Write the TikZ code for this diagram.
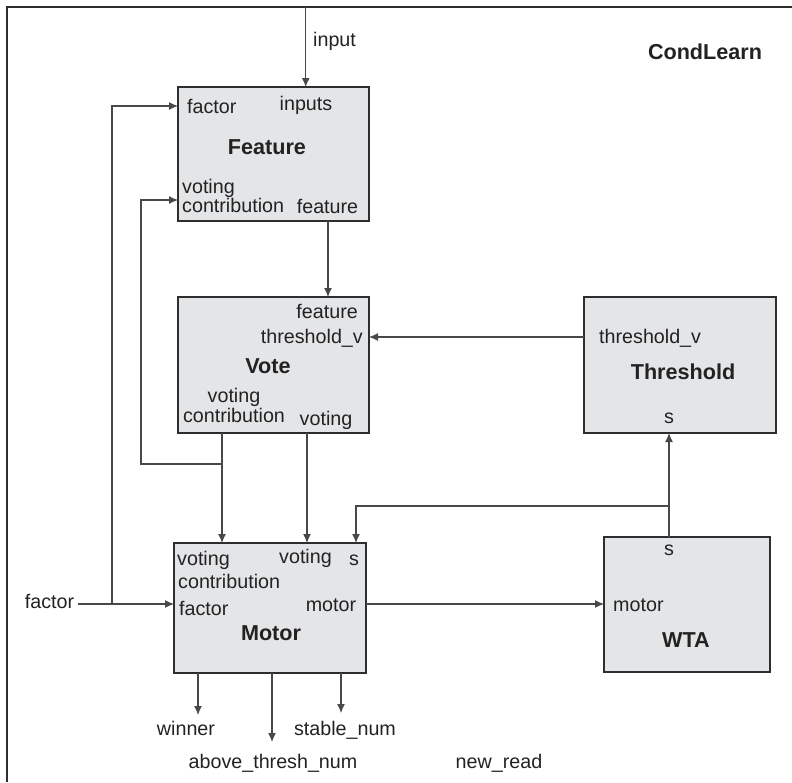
\documentclass[tikz,border=0pt]{standalone}
\usepackage{fontspec}
\setmainfont{Liberation Sans}
\usetikzlibrary{arrows.meta}
\definecolor{boxfill}{HTML}{E4E5E7}
\definecolor{boxline}{HTML}{2E2E2E}
\definecolor{wire}{HTML}{484848}
\definecolor{txt}{HTML}{222222}
\begin{document}
\begin{tikzpicture}[x=1pt,y=-1pt,
  blk/.style={draw=boxline,fill=boxfill,line width=1.6pt,inner sep=0pt,outer sep=0pt},
  wirel/.style={draw=wire,line width=1.2pt},
  arr/.style={wirel,-{Latex[length=9pt,width=8pt]}},
  lbl/.style={inner sep=0pt,text=txt,font=\fontsize{19.7}{20.5}\selectfont},
  lblL/.style={lbl,anchor=base west},
  lblC/.style={lbl,anchor=base},
  lblR/.style={lbl,anchor=base east},
  ttl/.style={inner sep=0pt,anchor=base,text=txt,font=\fontsize{21.6}{22}\selectfont\bfseries}]
\useasboundingbox (0,0) rectangle (792,782);
% frame
\draw[boxline,line width=1.8pt] (7,782) -- (7,7) -- (792,7);

% blocks
\node[blk,minimum width=191pt,minimum height=134pt] (Feature) at (273.5,154) {};
\node[blk,minimum width=191pt,minimum height=136pt] (Vote) at (273.5,365) {};
\node[blk,minimum width=192pt,minimum height=136pt] (Threshold) at (680,365) {};
\node[blk,minimum width=192pt,minimum height=130pt] (Motor) at (270,608) {};
\node[blk,minimum width=166pt,minimum height=135pt] (WTA) at (687,604.5) {};

% titles
\node[ttl] (tCond) at (705,59) {CondLearn};
\node[ttl] (tFeat) at (267,154) {Feature};
\node[ttl] (tVote) at (268,373) {Vote};
\node[ttl] (tThr) at (683,379) {Threshold};
\node[ttl] (tMot) at (271,640) {Motor};
\node[ttl] (tWTA) at (686,647) {WTA};

% Feature labels
\node[lblL] (lInput) at (313,46) {input};
\node[lblL] (fFactor) at (187,113) {factor};
\node[lblC] (fInputs) at (306,110) {inputs};
\node[lblL] (fVoting) at (182,193) {voting};
\node[lblL] (fContr) at (182,212) {contribution};
\node[lblC] (fFeature) at (327.5,213) {feature};

% Vote labels
\node[lblR] (vFeature) at (358,318) {feature};
\node[lblR] (vThr) at (363,343) {threshold\_v};
\node[lblC] (vVoting) at (234,402) {voting};
\node[lblC] (vContr) at (234,422) {contribution};
\node[lblC] (vVoting2) at (326,425) {voting};

% Threshold labels
\node[lblL] (tThrV) at (599,343) {threshold\_v};
\node[lblC] (tS) at (669,423) {s};

% Motor labels
\node[lblL] (mVoting) at (177,565) {voting};
\node[lblL] (mContr) at (178,588) {contribution};
\node[lblL] (mFactor) at (179,615) {factor};
\node[lblC] (mVoting2) at (305.5,563) {voting};
\node[lblC] (mS) at (354,565) {s};
\node[lblC] (mMotor) at (331,611) {motor};

% WTA labels
\node[lblC] (wS) at (669,555) {s};
\node[lblL] (wMotor) at (613,611) {motor};

% outside labels
\node[lblC] (oFactor) at (49.5,608) {factor};
\node[lblC] (oWinner) at (186,735) {winner};
\node[lblC] (oAbove) at (273,768) {above\_thresh\_num};
\node[lblC] (oStable) at (345,735) {stable\_num};
\node[lblC] (oNew) at (499,768) {new\_read};

% coordinates
\coordinate (inTop) at (305.7,7);
\coordinate (facL) at (78,604);
\coordinate (facJ) at (112,604);
\coordinate (vcJ) at (222,464);
\coordinate (vcL) at (141,464);
\coordinate (sJ) at (669,506);
\coordinate (winEnd) at (198,715);
\coordinate (aboveEnd) at (272,742);
\coordinate (stableEnd) at (341,713);

% connectors
\draw[arr] (inTop) -- (inTop |- Feature.north);
\draw[arr] (facL) -- (facL -| Motor.west);
\draw[arr] (facJ) |- ([yshift=48pt]Feature.west);
\draw[arr] ([xshift=54.5pt]Feature.south) -- ([xshift=54.5pt]Vote.north);
\draw[arr] ([yshift=28pt]Threshold.west) -- ([yshift=28pt]Vote.east);
\draw[arr] ([xshift=-51.5pt]Vote.south) -- ([xshift=-48pt]Motor.north);
\draw[arr] (vcJ) -- (vcL) |- ([yshift=-46pt]Feature.west);
\draw[arr] ([xshift=33.5pt]Vote.south) -- ([xshift=37pt]Motor.north);
\draw[arr] ([xshift=-18pt]WTA.north) -- ([xshift=-11pt]Threshold.south);
\draw[arr] (sJ) -| ([xshift=86pt]Motor.north);
\draw[arr] ([yshift=4pt]Motor.east) -- ([yshift=4pt]Motor.east -| WTA.west);
\draw[arr] ([xshift=-72pt]Motor.south) -- (winEnd);
\draw[arr] ([xshift=2pt]Motor.south) -- (aboveEnd);
\draw[arr] ([xshift=71pt]Motor.south) -- (stableEnd);
\end{tikzpicture}
\end{document}
